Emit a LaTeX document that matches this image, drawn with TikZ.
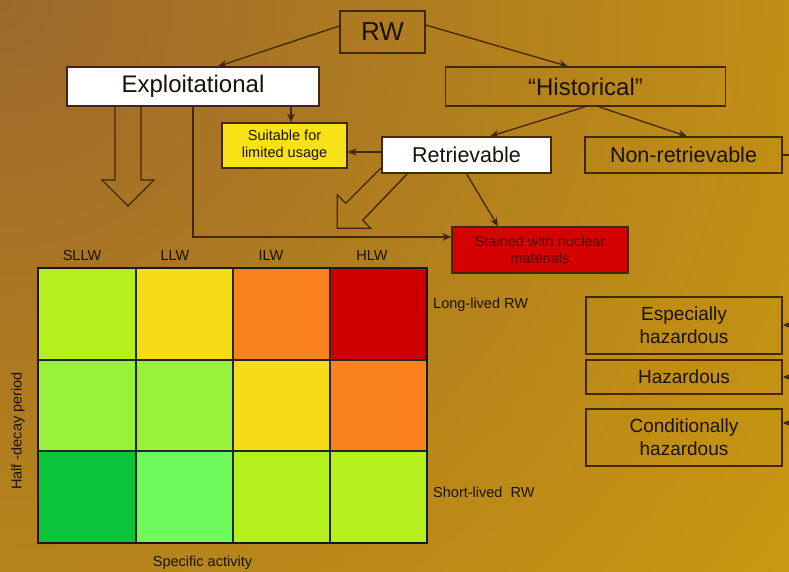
\documentclass[tikz,border=0pt]{standalone}
\usepackage{fontspec}
\setmainfont{Liberation Sans}
\usetikzlibrary{arrows.meta}
\definecolor{bgA}{RGB}{156,104,44}
\definecolor{bgB}{RGB}{207,158,12}
\definecolor{edge}{RGB}{66,40,10}
\definecolor{ink}{RGB}{26,18,6}
\definecolor{suitY}{RGB}{246,226,22}
\definecolor{stainR}{RGB}{212,2,2}
\definecolor{stainT}{RGB}{92,0,0}
\definecolor{cYG}{RGB}{180,240,30}
\definecolor{cY}{RGB}{246,220,22}
\definecolor{cO}{RGB}{250,130,30}
\definecolor{cR}{RGB}{204,0,0}
\definecolor{cLG}{RGB}{152,242,58}
\definecolor{cG}{RGB}{10,196,58}
\definecolor{cMG}{RGB}{110,250,90}
\begin{document}
\begin{tikzpicture}[x=1pt,y=-1pt,
  box/.style={draw=edge,line width=1.3pt,inner sep=0pt,align=center,text=ink},
  conn/.style={draw=edge,line width=1.3pt,-{Stealth[length=9pt,width=7.5pt]}},
  plain/.style={draw=edge,line width=1.3pt},
  blockarrow/.style={draw=edge,line width=1.4pt,line join=miter},
  lbl/.style={inner sep=0pt,text=ink,font=\fontsize{14.5}{16}\selectfont},
  big/.style={font=\fontsize{24}{28}\selectfont},
  mid/.style={font=\fontsize{21.5}{25}\selectfont},
  haz/.style={font=\fontsize{19}{23}\selectfont},
  small/.style={font=\fontsize{14.5}{17}\selectfont},
  cellline/.style={draw=black!85,line width=1.1pt}
]
\useasboundingbox (0,0) rectangle (789,572);
% background
\begin{scope}
\clip (0,0) rectangle (789,572);
\fill[bgB] (0,0) rectangle (789,572);
\shade[inner color=bgA, outer color=bgB] (0,0) circle (1100);
\end{scope}

% block arrows (drawn under the boxes)
\draw[blockarrow] (115,106) -- (115,180) -- (102,180) -- (128,206) -- (154,180) -- (141,180) -- (141,106);
\draw[blockarrow] (382,167) -- (345.75,203.25) -- (337.25,194.75) -- (337.25,228.25) -- (370.75,228.25) -- (362.75,220.25) -- (408,173);

% nodes
\node[box,big,minimum width=85pt,minimum height=42pt,font=\fontsize{26}{30}\selectfont] (rw) at (382.5,32) {RW};
\node[box,big,fill=white,minimum width=252pt,minimum height=39pt] (expl) at (193,86.5) {Exploitational};
\node[box,big,minimum width=280pt,minimum height=39pt] (hist) at (585.5,86.5) {“Historical”};
\node[box,small,fill=suitY,minimum width=125pt,minimum height=45pt] (suit) at (284.5,145.5) {Suitable for\\limited usage};
\node[box,mid,fill=white,minimum width=169pt,minimum height=36pt] (ret) at (466.5,155) {Retrievable};
\node[box,mid,minimum width=197pt,minimum height=36pt] (nonret) at (683.5,155) {Non-retrievable};
\node[box,small,fill=stainR,text=stainT,minimum width=176pt,minimum height=46pt] (stain) at (540,250) {Stained with nuclear\\materials};
\node[box,haz,minimum width=196pt,minimum height=57pt] (esp) at (684,325.5) {Especially\\hazardous};
\node[box,haz,minimum width=196pt,minimum height=34pt] (hz) at (684,377) {Hazardous};
\node[box,haz,minimum width=196pt,minimum height=57pt] (cond) at (684,437.5) {Conditionally\\hazardous};

% connectors
\draw[conn] ([yshift=6pt]rw.west) -- ([xshift=25pt]expl.north);
\draw[conn] ([yshift=7pt]rw.east) -- ([xshift=-17.5pt]hist.north);
\draw[conn] ([xshift=6.5pt]suit.north |- expl.south) -- ([xshift=6.5pt]suit.north);
\draw[conn] ([yshift=3pt]ret.west) -- ([yshift=3pt]ret.west -| suit.east);
\draw[conn] (hist.south) -- ([xshift=23.5pt]ret.north);
\draw[conn] ([xshift=13pt]hist.south) -- ([xshift=3.5pt]nonret.north);
\draw[conn] (ret.south) -- ([xshift=-42pt]stain.north);
\draw[conn] (expl.south) |- ([yshift=13pt]stain.west);
\coordinate (edgeN) at (789,155);
\draw[plain] (nonret.east) -- (edgeN);
\coordinate (edgeE) at (789,325);
\coordinate (edgeH) at (789,377);
\coordinate (edgeC) at (789,423);
\draw[conn] (edgeE) -- (edgeE -| esp.east);
\draw[conn] (edgeH) -- (edgeH -| hz.east);
\draw[conn] (edgeC) -- (edgeC -| cond.east);

% grid
\fill[cYG] (38,268) rectangle (136,360);
\fill[cY]  (136,268) rectangle (233,360);
\fill[cO]  (233,268) rectangle (330,360);
\fill[cR]  (330,268) rectangle (427,360);
\fill[cLG] (38,360) rectangle (136,451);
\fill[cLG] (136,360) rectangle (233,451);
\fill[cY]  (233,360) rectangle (330,451);
\fill[cO]  (330,360) rectangle (427,451);
\fill[cG]  (38,451) rectangle (136,543);
\fill[cMG] (136,451) rectangle (233,543);
\fill[cYG] (233,451) rectangle (330,543);
\fill[cYG] (330,451) rectangle (427,543);
\draw[cellline] (136,268) -- (136,543) (233,268) -- (233,543) (330,268) -- (330,543)
  (38,360) -- (427,360) (38,451) -- (427,451);
\draw[draw=black!90,line width=2.6pt] (38,268) rectangle (427,543);

% grid labels
\node[lbl] (sllw) at (82,256) {SLLW};
\node[lbl] (llw) at (175,256) {LLW};
\node[lbl] (ilw) at (271,256) {ILW};
\node[lbl] (hlw) at (372,256) {HLW};
\node[lbl,anchor=west] (longl) at (433,305) {Long-lived RW};
\node[lbl,anchor=west] (shortl) at (433,492) {Short-lived\ \ RW};
\node[lbl] (spec) at (202.5,563) {Specific activity};
\node[lbl,rotate=90] (half) at (18,431) {Half -decay period};
\end{tikzpicture}
\end{document}
